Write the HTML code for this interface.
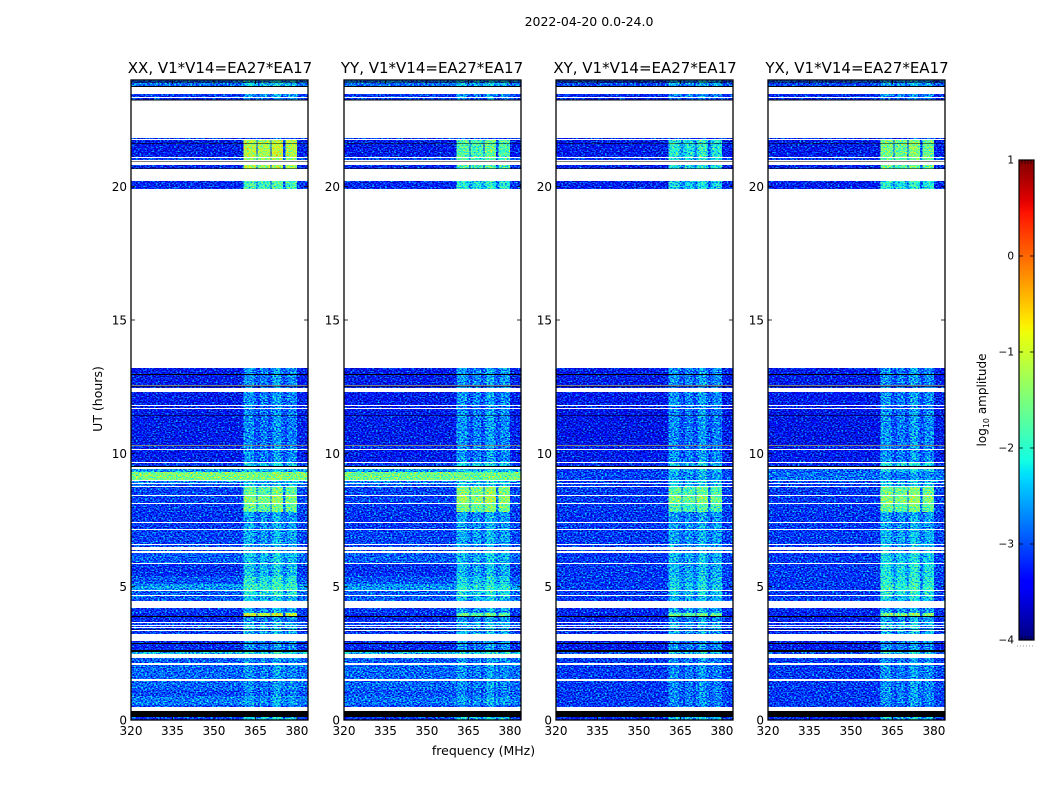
<!DOCTYPE html>
<html lang="en">
<head>
<meta charset="utf-8">
<title>2022-04-20 dynamic spectra</title>
<style>
html,body{margin:0;padding:0;background:#fff;}
svg{display:block;}
text{font-family:"DejaVu Sans","Liberation Sans",sans-serif;fill:#000;}
.title{font-size:15px;text-anchor:middle;}
.tick{font-size:12px;}
.label{font-size:12.5px;text-anchor:middle;}
.cb{font-size:10.5px;text-anchor:end;}
</style>
</head>
<body>
<svg id="fig" xmlns="http://www.w3.org/2000/svg" width="1050" height="800" viewBox="0 0 1050 800">
  <defs>
    <filter id="grain" filterUnits="userSpaceOnUse" x="0" y="0" width="1050" height="800" color-interpolation-filters="sRGB">
      <feTurbulence type="fractalNoise" baseFrequency="0.55 0.8" numOctaves="1" seed="7" result="t"/>
      <feColorMatrix in="t" type="matrix" values="1 0 0 0 0  1 0 0 0 0  1 0 0 0 0  0 0 0 0 1" result="n"/>
      <feComposite in="SourceGraphic" in2="n" operator="arithmetic" k1="0" k2="1" k3="0.75" k4="-0.405" result="sum"/>
      <feComposite in="sum" in2="SourceAlpha" operator="in" result="clip"/>
      <feComponentTransfer in="clip">
        <feFuncR id="fr" type="table" tableValues="0 1"/>
        <feFuncG id="fg" type="table" tableValues="0 1"/>
        <feFuncB id="fb" type="table" tableValues="0 1"/>
      </feComponentTransfer>
    </filter>
    <linearGradient id="jet" x1="0" y1="1" x2="0" y2="0"></linearGradient>
  </defs>
  <rect x="0" y="0" width="1050" height="800" fill="#fff"/>
  <g id="heat" filter="url(#grain)" shape-rendering="crispEdges"></g>
  <g id="overlay"></g>
  <text x="589" y="26" style="font-size:12.5px" text-anchor="middle">2022-04-20 0.0-24.0</text>
  <text class="title" x="220" y="73">XX, V1*V14=EA27*EA17</text>
  <text class="title" x="432" y="73">YY, V1*V14=EA27*EA17</text>
  <text class="title" x="645" y="73">XY, V1*V14=EA27*EA17</text>
  <text class="title" x="857" y="73">YX, V1*V14=EA27*EA17</text>
  <text class="label" x="483.5" y="755">frequency (MHz)</text>
  <text class="label" transform="translate(102,399) rotate(-90)">UT (hours)</text>
  <text class="label" style="font-size:12px" transform="translate(986,400) rotate(-90)">log<tspan dy="3" style="font-size:8px">10</tspan><tspan dy="-3"> amplitude</tspan></text>
  <g id="cbar"></g>
</svg>
<script>
// Polarisation panels
const panelNames = ['xx', 'yy', 'xy', 'yx'];

// Observed time bands (UT hours); anything not listed is missing data
const bandTop = [24.00,23.49,23.34,21.83,21.75,21.08,20.81,20.21,13.20,12.51,12.30,11.78,11.66,10.26,10.13,9.64,9.41,9.30,8.96,8.85,8.74,8.40,8.10,7.80,7.39,7.13,6.56,6.38,6.28,5.85,5.40,5.10,4.84,4.65,4.20,4.01,3.88,3.64,3.54,3.45,3.34,2.96,2.55,2.33,2.08,1.46,1.12,0.90,0.56,0.12];
const bandBottom = [23.74,23.38,23.25,21.79,21.12,21.00,20.68,19.91,12.55,12.45,11.82,11.70,10.30,10.17,9.68,9.47,9.30,9.00,8.89,8.78,8.44,8.14,7.80,7.43,7.17,6.60,6.49,6.34,5.89,5.40,5.10,4.88,4.69,4.46,4.01,3.90,3.68,3.58,3.49,3.38,3.21,2.63,2.46,2.12,1.52,1.12,0.90,0.56,0.49,0.00];

// log10 amplitude, quiet part of the band (below ~361 MHz), per time band
const lowXX = [-2.7,-3.0,-3.0,-3.0,-3.2,-2.9,-3.1,-3.1,-3.2,-3.2,-3.2,-3.2,-3.2,-3.1,-3.2,-3.0,-2.5,-1.35,-2.6,-2.8,-2.95,-2.95,-3.0,-3.05,-3.0,-2.95,-2.9,-2.9,-2.8,-3.05,-2.85,-2.5,-2.8,-2.8,-3.0,-3.1,-3.1,-2.9,-3.0,-3.0,-3.0,-3.1,-2.3,-2.8,-2.75,-2.75,-2.9,-2.65,-2.9,-3.0];
const lowYY = [-2.7,-3.0,-3.0,-3.0,-3.2,-2.9,-3.1,-3.1,-3.2,-3.2,-3.2,-3.2,-3.2,-3.1,-3.2,-3.0,-2.5,-1.45,-2.6,-2.8,-2.95,-2.95,-3.0,-3.05,-3.0,-2.95,-2.9,-2.9,-2.8,-3.05,-2.85,-2.5,-2.8,-2.8,-3.0,-3.1,-3.1,-2.9,-3.0,-3.0,-3.0,-3.1,-2.3,-2.8,-2.75,-2.75,-2.85,-2.7,-2.9,-3.0];
const lowXY = [-2.9,-3.1,-3.1,-3.1,-3.2,-3.0,-3.15,-3.15,-3.2,-3.2,-3.2,-3.2,-3.25,-3.15,-3.2,-3.1,-3.0,-2.95,-3.0,-3.0,-3.0,-3.0,-3.0,-3.05,-3.0,-3.0,-3.0,-3.0,-3.0,-3.0,-3.0,-3.0,-3.0,-3.0,-3.1,-3.15,-3.15,-3.05,-3.1,-3.1,-3.1,-3.2,-2.9,-3.0,-3.0,-3.0,-3.0,-3.0,-3.0,-3.1];
const lowYX = [-2.9,-3.1,-3.1,-3.1,-3.2,-3.0,-3.15,-3.15,-3.2,-3.2,-3.2,-3.2,-3.25,-3.15,-3.2,-3.1,-2.8,-2.7,-2.9,-3.0,-3.0,-3.0,-3.0,-3.05,-3.0,-3.0,-3.0,-3.0,-3.0,-3.0,-3.0,-3.0,-3.0,-3.0,-3.1,-3.15,-3.15,-3.05,-3.1,-3.1,-3.1,-3.2,-2.9,-3.0,-3.0,-3.0,-3.0,-3.0,-3.0,-3.1];

// log10 amplitude, bright sub-bands (361-380 MHz), per time band
const lobeXX = [-2.2,-2.4,-2.6,-2.9,-1.0,-1.2,-1.1,-1.7,-2.5,-2.6,-2.5,-2.6,-2.55,-2.5,-2.5,-2.1,-2.2,-1.35,-2.2,-2.2,-1.5,-1.3,-1.5,-2.4,-2.4,-2.35,-2.4,-2.4,-2.2,-2.2,-1.9,-1.8,-1.9,-2.2,-2.4,-0.9,-2.5,-2.3,-2.3,-2.3,-2.3,-2.5,-2.0,-2.5,-2.5,-2.5,-2.6,-2.4,-2.6,-2.1];
const lobeYY = [-2.3,-2.5,-2.6,-2.9,-1.6,-1.7,-1.7,-1.9,-2.45,-2.6,-2.5,-2.6,-2.5,-2.5,-2.5,-2.1,-2.2,-1.45,-2.2,-2.2,-1.3,-1.2,-1.4,-2.4,-2.4,-2.35,-2.4,-2.4,-2.25,-2.3,-2.1,-1.9,-2.0,-2.2,-2.4,-1.5,-2.5,-2.3,-2.3,-2.3,-2.3,-2.5,-2.0,-2.5,-2.5,-2.5,-2.6,-2.4,-2.6,-2.1];
const lobeXY = [-2.4,-2.5,-2.7,-2.9,-1.9,-2.0,-2.0,-2.1,-2.5,-2.6,-2.5,-2.6,-2.55,-2.55,-2.5,-2.2,-2.2,-2.4,-2.2,-2.2,-1.6,-1.4,-1.7,-2.45,-2.4,-2.4,-2.4,-2.4,-2.3,-2.3,-2.2,-2.1,-2.15,-2.3,-2.4,-1.5,-2.5,-2.35,-2.35,-2.4,-2.4,-2.5,-2.2,-2.55,-2.55,-2.55,-2.55,-2.55,-2.6,-2.2];
const lobeYX = [-2.4,-2.5,-2.7,-2.9,-1.4,-1.6,-1.5,-1.9,-2.5,-2.6,-2.5,-2.6,-2.5,-2.5,-2.5,-2.0,-2.1,-2.5,-2.2,-2.2,-1.4,-1.3,-1.5,-2.4,-2.4,-2.3,-2.3,-2.3,-2.1,-2.0,-1.9,-1.8,-1.9,-2.1,-2.4,-1.3,-2.4,-2.2,-2.2,-2.3,-2.3,-2.5,-2.1,-2.5,-2.5,-2.5,-2.5,-2.5,-2.6,-2.2];

// Frequency channels (MHz edges) and how each one is filled
const channelEdges = [320,360.6,364.5,365.3,365.8,366.6,369.6,370.4,370.8,371.6,374.2,375,375.8,376.6,380.1,384];
const channelKind = ['low','lobe','edge','gap','edge','lobe','edge','gap','edge','lobe','edge','gap','edge','lobe','low'];
const channelTrim = [0,0,0,0,-0.1,-0.1,-0.1,0,0.1,0.1,0.1,0,-0.05,-0.05,0.05];

// Flagged (below range) time slices, UT hours
const flagTop = [23.94,23.78,23.27,21.64,20.96,20.68,12.98,12.54,11.44,10.31,9.53,3.90,3.41,2.89,2.63,0.34];
const flagBottom = [23.91,23.74,23.24,21.62,20.94,20.66,12.94,12.51,11.42,10.29,9.49,3.86,3.39,2.85,2.55,0.12];

// Axis ticks
const freqTicks = [320,335,350,365,380];
const utTicks = [0,5,10,15,20];
const cbarTicks = [-4,-3,-2,-1,0,1];

// Layout
const panelLeft = [131,344,556,768];
const panelWidth = 177;
const plotTop = 80, plotBottom = 720;
const freqMin = 320, freqMax = 384;
const utMax = 24;
const vmin = -4, vmax = 1;
const lowSeries = [lowXX, lowYY, lowXY, lowYX];
const lobeSeries = [lobeXX, lobeYY, lobeXY, lobeYX];

const NS = 'http://www.w3.org/2000/svg';
function make(tag, parent, attrs, text) {
  const el = document.createElementNS(NS, tag);
  for (const k in attrs) el.setAttribute(k, attrs[k]);
  if (text !== undefined) el.textContent = text;
  parent.appendChild(el);
  return el;
}
function xScale(p, f) { return panelLeft[p] + (f - freqMin) / (freqMax - freqMin) * panelWidth; }
function yScale(h) { return plotBottom - h / utMax * (plotBottom - plotTop); }
function norm(v) { return Math.max(0, Math.min(1, (v - vmin) / (vmax - vmin))); }

// Jet colormap
const jetR = [[0,0],[0.35,0],[0.66,1],[0.89,1],[1,0.5]];
const jetG = [[0,0],[0.125,0],[0.375,1],[0.64,1],[0.91,0],[1,0]];
const jetB = [[0,0.5],[0.11,1],[0.34,1],[0.65,0],[1,0]];
function ramp(tbl, x) {
  for (let i = 1; i < tbl.length; i++) {
    if (x <= tbl[i][0]) {
      const a = tbl[i - 1], b = tbl[i];
      return a[1] + (b[1] - a[1]) * (x - a[0]) / (b[0] - a[0]);
    }
  }
  return tbl[tbl.length - 1][1];
}
const tableR = [], tableG = [], tableB = [];
for (let i = 0; i <= 128; i++) {
  tableR.push(ramp(jetR, i / 128).toFixed(3));
  tableG.push(ramp(jetG, i / 128).toFixed(3));
  tableB.push(ramp(jetB, i / 128).toFixed(3));
}
document.getElementById('fr').setAttribute('tableValues', tableR.join(' '));
document.getElementById('fg').setAttribute('tableValues', tableG.join(' '));
document.getElementById('fb').setAttribute('tableValues', tableB.join(' '));

// Colourbar gradient
const grad = document.getElementById('jet');
for (let i = 0; i <= 64; i++) {
  const x = i / 64;
  const c = 'rgb(' + Math.round(ramp(jetR, x) * 255) + ',' + Math.round(ramp(jetG, x) * 255) + ',' + Math.round(ramp(jetB, x) * 255) + ')';
  make('stop', grad, { offset: (x * 100).toFixed(2) + '%', 'stop-color': c });
}

const heat = document.getElementById('heat');
const overlay = document.getElementById('overlay');

panelNames.forEach(function (name, p) {
  // Heatmap cells: grey encodes the normalised amplitude, the filter maps it to jet
  const cells = make('g', heat, {});
  
  
  bandTop.forEach(function (top, b) {
    channelKind.forEach(function (kind, c) {
      const low = lowSeries[p][b], lobe = lobeSeries[p][b];
      let v;
      if (kind === 'low') v = low + channelTrim[c];
      else if (kind === 'lobe') v = lobe + channelTrim[c];
      else if (kind === 'edge') v = lobe + channelTrim[c] - (lobe < -1.8 ? 0.28 : 0);
      else v = Math.min(lobe, low + 0.35);
      const g = norm(v) * 255;
      const x0 = xScale(p, channelEdges[c]), x1 = xScale(p, channelEdges[c + 1]);
      const y0 = Math.round(yScale(top)), y1 = Math.round(yScale(bandBottom[b]));
      const cell = make('rect', cells, { x: x0, y: y0, width: x1 - x0, height: y1 - y0, fill: 'rgb(' + g.toFixed(1) + ',' + g.toFixed(1) + ',' + g.toFixed(1) + ')' });
      
      
    });
  });

  const ax = make('g', overlay, {});
  
  

  // Flagged slices
  flagTop.forEach(function (top, i) {
    const y0 = yScale(top), y1 = yScale(flagBottom[i]);
    const line = make('rect', ax, { x: xScale(p, freqMin), y: y0, width: panelWidth, height: y1 - y0, fill: '#000', 'shape-rendering': 'crispEdges' });
    
    
  });

  const L = panelLeft[p], R = L + panelWidth;

  // Frequency ticks and labels
  freqTicks.forEach(function (f) {
    const x = xScale(p, f);
    const t1 = make('line', ax, { x1: x, x2: x, y1: plotBottom, y2: plotBottom - 4, stroke: '#000', 'stroke-width': 0.8 });
    
    
    const t2 = make('line', ax, { x1: x, x2: x, y1: plotTop, y2: plotTop + 4, stroke: '#000', 'stroke-width': 0.8 });
    
    
    const lab = make('text', ax, { class: 'tick', x: x, y: 735, 'text-anchor': 'middle' }, String(f));
    
    
  });

  // UT ticks and labels
  utTicks.forEach(function (h) {
    const y = yScale(h);
    const t1 = make('line', ax, { x1: L, x2: L + 4, y1: y, y2: y, stroke: '#000', 'stroke-width': 0.8 });
    
    
    const t2 = make('line', ax, { x1: R, x2: R - 4, y1: y, y2: y, stroke: '#000', 'stroke-width': 0.8 });
    
    
    const lab = make('text', ax, { class: 'tick', x: L - 4, y: y + 4.5, 'text-anchor': 'end' }, String(h));
    
    
  });

  // Frame
  const frame = make('rect', ax, { x: L, y: plotTop, width: panelWidth, height: plotBottom - plotTop, fill: 'none', stroke: '#000', 'stroke-width': 1.3 });
  
  
});

// Colourbar
const cb = document.getElementById('cbar');
const cbLeft = 1019, cbRight = 1034, cbTop = 160, cbBottom = 640;
function cbY(v) { return cbBottom - (v - vmin) / (vmax - vmin) * (cbBottom - cbTop); }
const cbFill = make('rect', cb, { x: cbLeft, y: cbTop, width: cbRight - cbLeft, height: cbBottom - cbTop, fill: 'url(#jet)' });


cbarTicks.forEach(function (v) {
  const y = cbY(v);
  const t1 = make('line', cb, { x1: cbLeft, x2: cbLeft + 4, y1: y, y2: y, stroke: '#000', 'stroke-width': 0.8 });
  
  
  const t2 = make('line', cb, { x1: cbRight, x2: cbRight - 4, y1: y, y2: y, stroke: '#000', 'stroke-width': 0.8 });
  
  
  const lab = make('text', cb, { class: 'cb', x: cbLeft - 5, y: y + 3.5 }, (v < 0 ? '\u2212' : '') + Math.abs(v));
  
  
});
for (let i = 1; i < 5; i++) {
  const x = cbLeft + i * 3;
  const a = make('line', cb, { x1: x, x2: x, y1: cbTop, y2: cbTop + 4, stroke: '#000', 'stroke-width': 0.6 });
  
  
  const b = make('line', cb, { x1: x, x2: x, y1: cbBottom, y2: cbBottom - 4, stroke: '#000', 'stroke-width': 0.6 });
  
  
}
const cbFrame = make('rect', cb, { x: cbLeft, y: cbTop, width: cbRight - cbLeft, height: cbBottom - cbTop, fill: 'none', stroke: '#000', 'stroke-width': 1.2 });


const cbDots = make('line', cb, { x1: 1017, x2: 1035, y1: 646, y2: 646, stroke: '#999', 'stroke-width': 1, 'stroke-dasharray': '1 2' });


</script>
</body>
</html>
